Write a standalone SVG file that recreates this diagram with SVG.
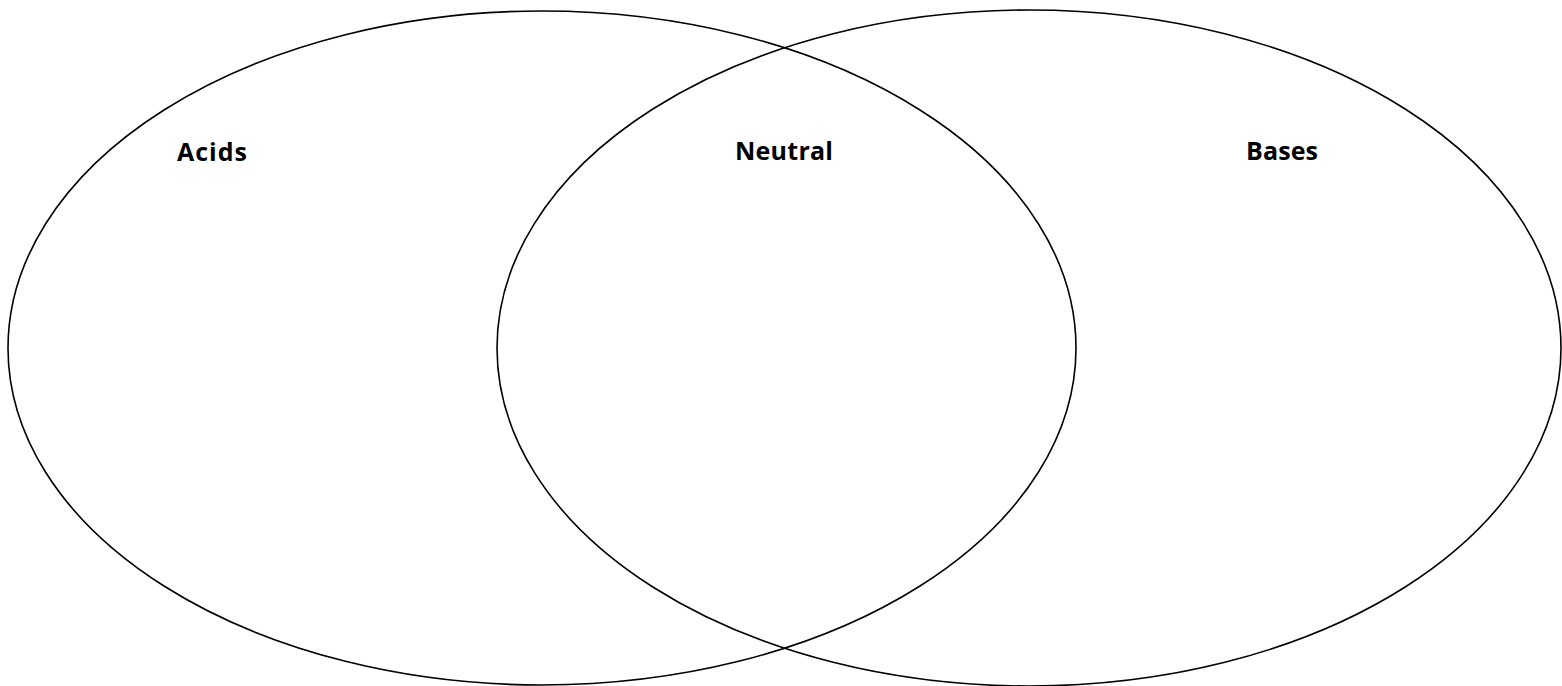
<svg xmlns="http://www.w3.org/2000/svg" width="1562" height="686" viewBox="0 0 1562 686">
<style>
.c{fill:none;stroke:#000;stroke-width:1.6}
.t{font-family:"Open Sans","Liberation Sans",sans-serif;font-weight:bold;font-size:25px;fill:#000}
</style>
<rect width="1562" height="686" fill="#fff"/>
<g id="acids"><ellipse class="c" cx="542" cy="348" rx="534" ry="337"/><text class="t" x="177" y="161" textLength="70">Acids</text></g>
<g id="bases"><ellipse class="c" cx="1029" cy="348" rx="532" ry="338"/><text class="t" x="1246" y="160" textLength="72">Bases</text></g>
<g id="neutral"><text class="t" x="735" y="160" textLength="98">Neutral</text></g>
<g id="connectors"/>
</svg>
